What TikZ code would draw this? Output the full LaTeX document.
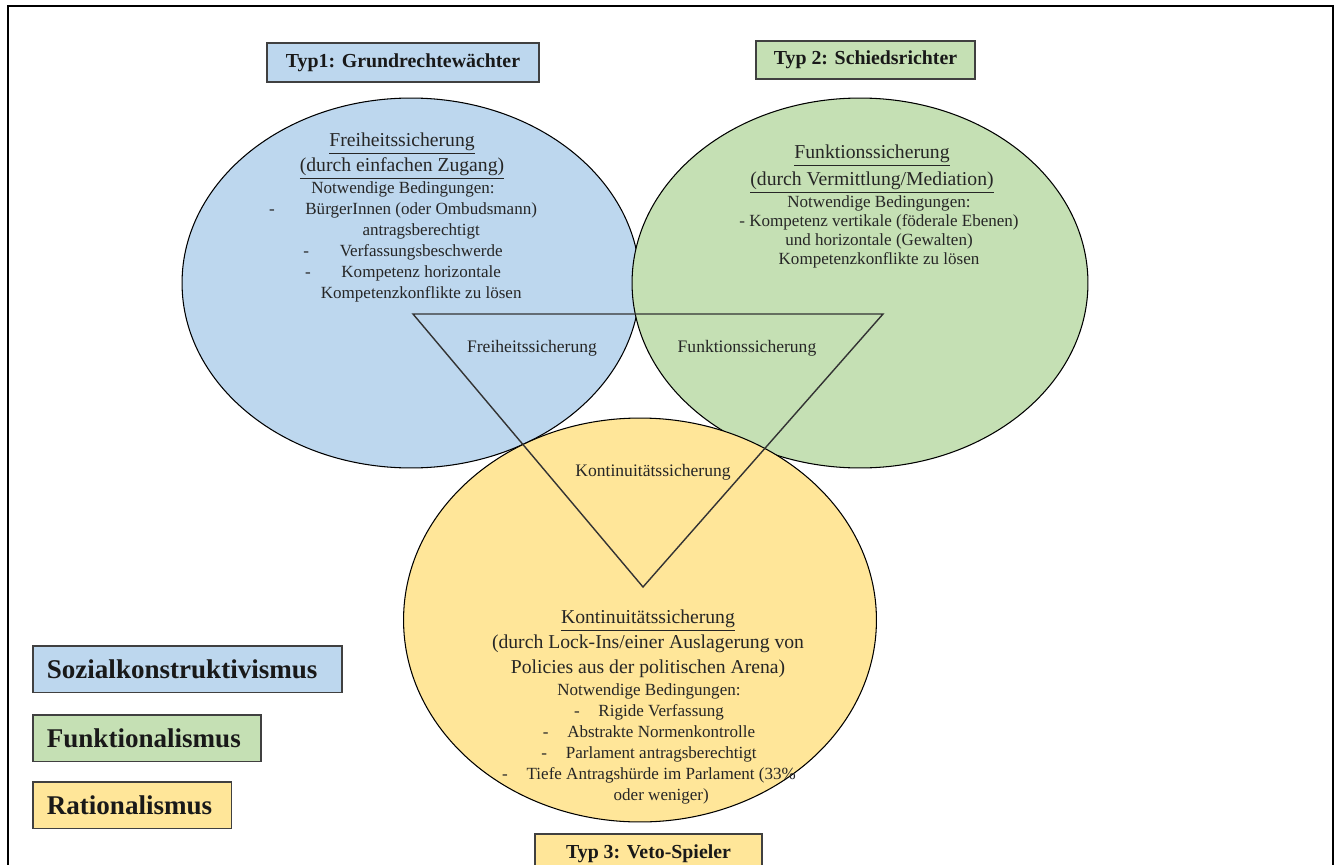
\documentclass[tikz,border=0pt]{standalone}
\usepackage{fontspec}
\setmainfont{Liberation Serif}
\usetikzlibrary{shapes.geometric, positioning, calc}
\definecolor{typblau}{HTML}{BDD7EE}
\definecolor{typgruen}{HTML}{C5E0B4}
\definecolor{typgelb}{HTML}{FFE699}
\tikzstyle{kreis} = [ellipse, draw=black, line width=0.6pt, inner sep=0pt]
\tikzstyle{typbox} = [rectangle, draw=black!75, line width=0.9pt, text centered, text=black!90, font=\fontsize{11.3}{13}\selectfont\bfseries]
\tikzstyle{legende} = [rectangle, draw=black!75, line width=0.9pt, align=left, text=black!90, font=\fontsize{15.4}{18}\selectfont\bfseries, minimum height=26.5pt, inner xsep=8pt]
\tikzstyle{titel} = [align=center, text=black!85, font=\fontsize{11.2}{14.2}\selectfont]
\tikzstyle{liste} = [align=center, text=black!85, font=\fontsize{9.7}{11.9}\selectfont]
\tikzstyle{schnitt} = [text=black!85, font=\fontsize{10}{12}\selectfont]

\begin{document}
\begin{tikzpicture}[x=0.02cm, y=-0.02cm]

    \useasboundingbox (0,0) rectangle (1342,865);
    \clip (0,0) rectangle (1342,865);
    \fill[white] (0,0) rectangle (1342,865);

    % Rahmen
    \draw[line width=1.4pt] (8,880) |- (1333,6) -- (1333,880);

    % Ellipsen
    \node (blau) [kreis, fill=typblau, minimum width=9.16cm, minimum height=7.4cm] at (411,283) {};
    \node (gruen) [kreis, fill=typgruen, minimum width=9.12cm, minimum height=7.4cm] at (860,283) {};
    \node (gelb) [kreis, fill=typgelb, minimum width=9.46cm, minimum height=8.08cm] at (640,620) {};

    % Dreieck
    \coordinate (ecklinks) at (413,314);
    \coordinate (eckrechts) at (883,314);
    \coordinate (eckunten) at (643,587);
    \draw[line width=0.8pt, black!80] (ecklinks) -- (eckrechts) -- (eckunten) -- cycle;

    % Typen
    \node (typ1) [typbox, fill=typblau, minimum width=154.8pt, minimum height=22.2pt] at (403,62.5) {Typ1: Grundrechtewächter};
    \node (typ2) [typbox, fill=typgruen, minimum width=124.6pt, minimum height=21.6pt] at (865.5,60) {Typ 2: Schiedsrichter};
    \node (typ3) [typbox, fill=typgelb, minimum width=129.2pt, minimum height=22.2pt] at (648.5,853.5) {Typ 3: Veto-Spieler};

    % Texte in den Ellipsen
    \node (blautitel) [titel] at (402,156) {\underline{Freiheitssicherung}\\\underline{(durch einfachen Zugang)}};
    \node (blauliste) [liste] at (403,242) {Notwendige Bedingungen:\\
        -\hspace{1.8em}BürgerInnen (oder Ombudsmann)\\
        \hphantom{-\hspace{1.8em}}antragsberechtigt\\
        -\hspace{1.8em}Verfassungsbeschwerde\\
        -\hspace{1.8em}Kompetenz horizontale\\
        \hphantom{-\hspace{1.8em}}Kompetenzkonflikte zu lösen};

    \node (gruentitel) [titel, font=\fontsize{11.2}{15.2}\selectfont] at (872,169) {\underline{Funktionssicherung}\\\underline{(durch Vermittlung/Mediation)}};
    \node (gruenliste) [liste, font=\fontsize{9.7}{10.9}\selectfont] at (879,232) {Notwendige Bedingungen:\\
        - Kompetenz vertikale (föderale Ebenen)\\
        und horizontale (Gewalten)\\
        Kompetenzkonflikte zu lösen};

    \node (gelbtitel) [titel] at (648,644) {\underline{Kontinuitätssicherung}\\(durch Lock-Ins/einer Auslagerung von\\Policies aus der politischen Arena)};
    \node (gelbliste) [liste] at (649,744) {Notwendige Bedingungen:\\
        -\hspace{1.1em}Rigide Verfassung\\
        -\hspace{1.1em}Abstrakte Normenkontrolle\\
        -\hspace{1.1em}Parlament antragsberechtigt\\
        -\hspace{1.1em}Tiefe Antragshürde im Parlament (33\%\\
        \hphantom{-\hspace{1.1em}}oder weniger)};

    % Schnittmengen
    \node (frei) [schnitt] at (532,348) {Freiheitssicherung};
    \node (funk) [schnitt] at (747,348) {Funktionssicherung};
    \node (kont) [schnitt] at (653,472) {Kontinuitätssicherung};

    % Legende
    \node (soz) [legende, fill=typblau, anchor=north west, text width=160pt] at (32,645) {Sozialkonstruktivismus};
    \node (fkt) [legende, fill=typgruen, text width=114pt, below=0.42cm of soz.south west, anchor=north west] {Funktionalismus};
    \node (rat) [legende, fill=typgelb, text width=97pt, below=0.38cm of fkt.south west, anchor=north west] {Rationalismus};

\end{tikzpicture}
\end{document}
